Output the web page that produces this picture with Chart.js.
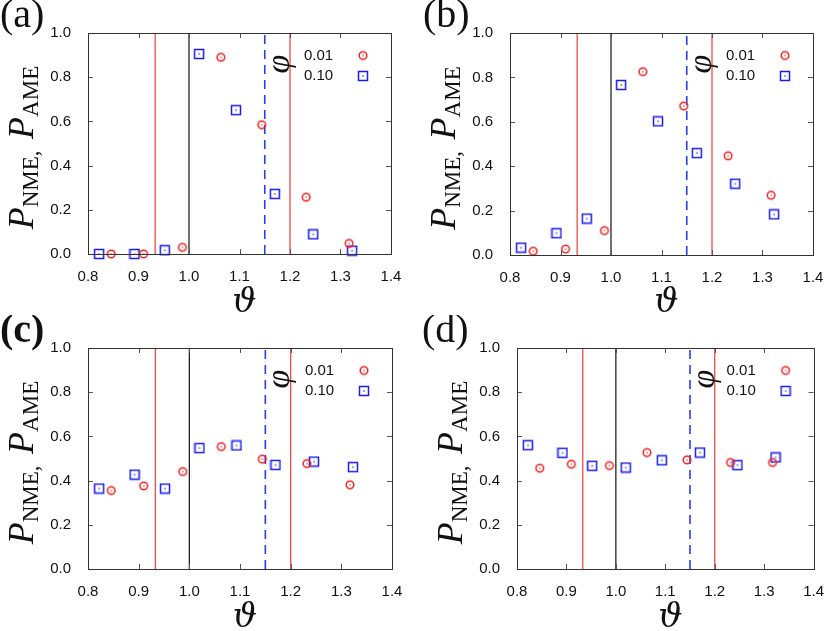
<!DOCTYPE html>
<html>
<head>
<meta charset="utf-8">
<script src="https://cdn.jsdelivr.net/npm/chart.js@4"></script>
<style>
body { margin: 0; background: #fff; }
#wrap { position: relative; width: 830px; height: 631px; }
.panel { position: absolute; }
</style>
</head>
<body>
<div id="wrap">
  <div class="panel" style="left:0;top:0"><canvas id="ca" width="415" height="315"></canvas></div>
  <div class="panel" style="left:415px;top:0"><canvas id="cb" width="415" height="315"></canvas></div>
  <div class="panel" style="left:0;top:315px"><canvas id="cc" width="415" height="316"></canvas></div>
  <div class="panel" style="left:415px;top:315px"><canvas id="cd" width="415" height="316"></canvas></div>
</div>
<script>
// theta values of the two series
const thetaCircle = [0.846, 0.91, 0.987, 1.063, 1.144, 1.232, 1.317];
const thetaSquare = [0.822, 0.892, 0.952, 1.02, 1.093, 1.17, 1.246, 1.323];

// phi = 0.01 (circles) and phi = 0.10 (squares), one pair per panel
const circleA = [0.0, 0.0, 0.03, 0.89, 0.585, 0.257, 0.048];
const squareA = [0.0, 0.0, 0.017, 0.905, 0.651, 0.272, 0.089, 0.015];
const circleB = [0.017, 0.027, 0.11, 0.826, 0.671, 0.447, 0.269];
const squareB = [0.033, 0.098, 0.164, 0.766, 0.602, 0.459, 0.321, 0.183];
const circleC = [0.355, 0.376, 0.441, 0.554, 0.497, 0.477, 0.381];
const squareC = [0.364, 0.427, 0.364, 0.547, 0.559, 0.471, 0.486, 0.461];
const circleD = [0.456, 0.474, 0.468, 0.527, 0.494, 0.482, 0.482];
const squareD = [0.56, 0.526, 0.467, 0.459, 0.492, 0.527, 0.47, 0.505];

// vertical reference lines
const redLines = [0.933, 1.2];
const blackLines = [1.0];
const blueLines = [1.15];

const legendLabels = ['0.01', '0.10'];
const panelLabels = ['(a)', '(b)', '(c)', '(d)'];

const RED = '#f02020';
const BLUE = '#1c1ced';

// marker pictures: open symbol with a dot in the middle
function makeMarker(kind, color) {
    const c = document.createElement('canvas');
    c.width = 12; c.height = 12;
    const g = c.getContext('2d');
    g.strokeStyle = color;
    g.fillStyle = color;
    g.lineWidth = 1.5;
    if (kind === 'circle') {
        g.beginPath();
        g.arc(6, 6, 3.8, 0, Math.PI * 2);
        g.stroke();
    } else {
        g.strokeRect(1.5, 1.5, 9, 9);
    }
    g.fillRect(5.4, 5.4, 1.3, 1.3);
    return c;
}
const circleMark = makeMarker('circle', RED);
const squareMark = makeMarker('square', BLUE);

function lineSets(values, color, width, dash) {
    return values.map(v => ({
        data: [{ x: v, y: 0 }, { x: v, y: 1 }],
        showLine: true,
        borderColor: color,
        borderWidth: width,
        borderDash: dash,
        pointRadius: 0,
        order: 2
    }));
}

// frame, inner ticks, titles, key
const decorations = {
    id: 'decorations',
    afterDatasetsDraw(chart, args, opts) {
        const ctx = chart.ctx;
        const a = chart.chartArea;
        const xs = chart.scales.x, ys = chart.scales.y;
        ctx.save();
        ctx.strokeStyle = '#555';
        ctx.lineWidth = 1;
        const t = 5;
        ctx.beginPath();
        xs.ticks.forEach(tk => {
            const px = Math.round(xs.getPixelForValue(tk.value)) + 0.5;
            ctx.moveTo(px, a.bottom); ctx.lineTo(px, a.bottom - t);
            ctx.moveTo(px, a.top); ctx.lineTo(px, a.top + t);
        });
        ys.ticks.forEach(tk => {
            const py = Math.round(ys.getPixelForValue(tk.value)) + 0.5;
            ctx.moveTo(a.left, py); ctx.lineTo(a.left + t, py);
            ctx.moveTo(a.right, py); ctx.lineTo(a.right - t, py);
        });
        ctx.stroke();
        ctx.strokeStyle = '#333';
        ctx.strokeRect(Math.round(a.left) + 0.5, Math.round(a.top) + 0.5,
            Math.round(a.right - a.left), Math.round(a.bottom - a.top));

        // key
        ctx.fillStyle = '#111';
        ctx.font = '15px "Liberation Sans", Arial, sans-serif';
        ctx.textAlign = 'left';
        ctx.textBaseline = 'middle';
        const marks = [circleMark, squareMark];
        legendLabels.forEach((lab, i) => {
            const y = a.top + 22.5 + i * 20.5;
            ctx.fillText(lab, a.right - 87, y);
            ctx.drawImage(marks[i], a.right - 28 - 6, y - 6);
        });

        // phi
        ctx.save();
        ctx.translate(xs.getPixelForValue(blueLines[0]) + 15, a.top + 31);
        ctx.rotate(-Math.PI / 2);
        ctx.font = 'italic 34px "Liberation Serif", serif';
        ctx.textAlign = 'center';
        ctx.textBaseline = 'middle';
        ctx.fillText('\u03C6', 0, 0);
        ctx.restore();

        // y title
        ctx.save();
        ctx.translate(a.left - 55, (a.top + a.bottom) / 2 + 4);
        ctx.rotate(-Math.PI / 2);
        const big = 'italic 36px "Liberation Serif", serif';
        const small = '23px "Liberation Serif", serif';
        const parts = [['P', big, 0], ['NME,', small, 5], ['\u2002', small, 0], ['P', big, 0], ['AME', small, 5]];
        let total = 0;
        parts.forEach(p => { ctx.font = p[1]; total += ctx.measureText(p[0]).width; });
        let x = -total / 2;
        ctx.textAlign = 'left';
        ctx.textBaseline = 'alphabetic';
        parts.forEach(p => {
            ctx.font = p[1];
            ctx.fillText(p[0], x, p[2]);
            x += ctx.measureText(p[0]).width;
        });
        ctx.restore();

        // x title
        ctx.font = 'italic 34px "DejaVu Serif", serif';
        ctx.textAlign = 'center';
        ctx.textBaseline = 'alphabetic';
        ctx.fillText('\u03D1', (a.left + a.right) / 2 + 5, 312);

        // panel label
        ctx.font = (opts.bold ? 'bold ' : '') + '40px "Liberation Serif", serif';
        ctx.textAlign = 'left';
        ctx.fillText(opts.label, opts.labelX, 27);
        ctx.restore();
    }
};

function makePanel(id, label, labelX, box, circles, squares, bold) {
    const canvas = document.getElementById(id);
    const W = canvas.width, H = canvas.height;
    const tickFont = { family: '"Liberation Sans", Arial, sans-serif', size: 15 };
    return new Chart(canvas.getContext('2d'), {
        type: 'scatter',
        data: {
            datasets: [
                {
                    label: legendLabels[0],
                    data: thetaCircle.map((x, i) => ({ x: x, y: circles[i] })),
                    pointStyle: circleMark,
                    clip: false,
                    order: 0
                },
                {
                    label: legendLabels[1],
                    data: thetaSquare.map((x, i) => ({ x: x, y: squares[i] })),
                    pointStyle: squareMark,
                    clip: false,
                    order: 0
                },
                ...lineSets(redLines, '#ef4a4a', 1.3, []),
                ...lineSets(blackLines, '#111', 1.2, []),
                ...lineSets(blueLines, '#2a3cf0', 1.6, [9, 6])
            ]
        },
        options: {
            responsive: false,
            animation: false,
            layout: { padding: { left: 0, right: W - box.right, top: box.top, bottom: 0 } },
            plugins: {
                legend: { display: false },
                tooltip: { enabled: false },
                decorations: { label: label, labelX: labelX, bold: bold }
            },
            scales: {
                x: {
                    type: 'linear', min: 0.8, max: 1.4,
                    grid: { display: false }, border: { display: false },
                    ticks: { stepSize: 0.1, padding: 6, color: '#111', font: tickFont, maxRotation: 0,
                        callback: v => v.toFixed(1) },
                    afterFit(s) { s.height = H - box.bottom; }
                },
                y: {
                    min: 0, max: 1,
                    grid: { display: false }, border: { display: false },
                    ticks: { stepSize: 0.2, padding: 9, color: '#111', font: tickFont,
                        callback: v => v.toFixed(1) },
                    afterFit(s) { s.width = box.left; }
                }
            }
        },
        plugins: [decorations]
    });
}

makePanel('ca', panelLabels[0], 0, { left: 88, right: 391, top: 33, bottom: 254 }, circleA, squareA, false);
makePanel('cb', panelLabels[1], 8, { left: 95, right: 398, top: 33, bottom: 255 }, circleB, squareB, false);
makePanel('cc', panelLabels[2], 0, { left: 88, right: 392, top: 33, bottom: 254 }, circleC, squareC, true);
makePanel('cd', panelLabels[3], 7, { left: 102, right: 404, top: 33, bottom: 254 }, circleD, squareD, false);
</script>
</body>
</html>
